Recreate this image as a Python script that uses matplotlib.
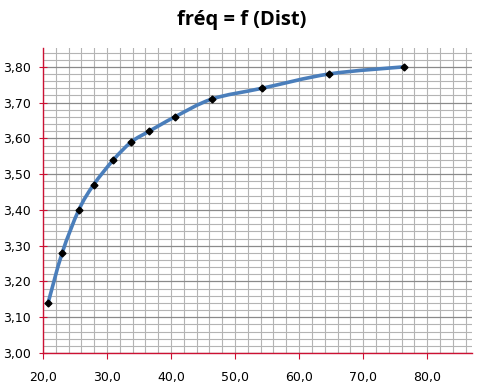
import numpy as np
import matplotlib.pyplot as plt
from matplotlib.path import Path
from matplotlib.patches import PathPatch
from matplotlib.ticker import MultipleLocator, FuncFormatter

# Data
dist = [20.8, 23.0, 25.6, 27.9, 31.0, 33.8, 36.6, 40.6, 46.4, 54.2, 64.7, 76.4]
freq = [3.14, 3.28, 3.40, 3.47, 3.54, 3.59, 3.62, 3.66, 3.71, 3.74, 3.78, 3.80]

title = 'fréq = f (Dist)'
axis_red = '#cc1133'
line_blue = '#4a7ebb'

fig = plt.figure(figsize=(4.84, 3.92), dpi=100)
ax = fig.add_axes([0.0888, 0.0995, 0.8864, 0.7775])

# Excel-style smoothed line: Bezier segments with control points from neighbours
pts = np.column_stack([dist, freq])
verts = [pts[0]]
codes = [Path.MOVETO]
n = len(pts)
for i in range(n - 1):
    p0 = pts[i - 1] if i > 0 else pts[i]
    p1 = pts[i]
    p2 = pts[i + 1]
    p3 = pts[i + 2] if i + 2 < n else pts[i + 1]
    c1 = p1 + (p2 - p0) / 6.0
    c2 = p2 - (p3 - p1) / 6.0
    verts += [c1, c2, p2]
    codes += [Path.CURVE4] * 3
ax.add_patch(PathPatch(Path(verts, codes), facecolor='none', edgecolor=line_blue,
                       lw=2.6, capstyle='round', joinstyle='round', zorder=3))
ax.plot(dist, freq, linestyle='none', marker='D', markersize=3.5, color='black', zorder=4)

ax.set_xlim(20, 87)
ax.set_ylim(3.0, 3.852)

ax.xaxis.set_major_locator(MultipleLocator(10))
ax.xaxis.set_minor_locator(MultipleLocator(2))
ax.yaxis.set_major_locator(MultipleLocator(0.1))
ax.yaxis.set_minor_locator(MultipleLocator(0.02))

ax.xaxis.set_major_formatter(FuncFormatter(lambda v, p: f'{v:.1f}'.replace('.', ',')))
ax.yaxis.set_major_formatter(FuncFormatter(lambda v, p: f'{v:.2f}'.replace('.', ',')))

ax.grid(which='minor', color='#b4b4b4', lw=0.8)
ax.grid(which='major', axis='x', color='#b4b4b4', lw=0.8)
ax.grid(which='major', axis='y', color='#8a8a8a', lw=0.9)
ax.set_axisbelow(True)

for s in ['top', 'right']:
    ax.spines[s].set_visible(False)
for s in ['left', 'bottom']:
    ax.spines[s].set_color(axis_red)
    ax.spines[s].set_linewidth(1.0)

ax.tick_params(which='minor', length=0)
ax.tick_params(axis='x', which='major', direction='out', length=4, color=axis_red,
               labelsize=9, pad=9)
ax.tick_params(axis='y', which='major', direction='inout', length=6, color=axis_red,
               labelsize=9, pad=6)

fig.suptitle(title, x=0.5, y=0.975, fontsize=14.5, fontweight='bold', family='Open Sans')

fig.savefig('out.png', dpi=100)
